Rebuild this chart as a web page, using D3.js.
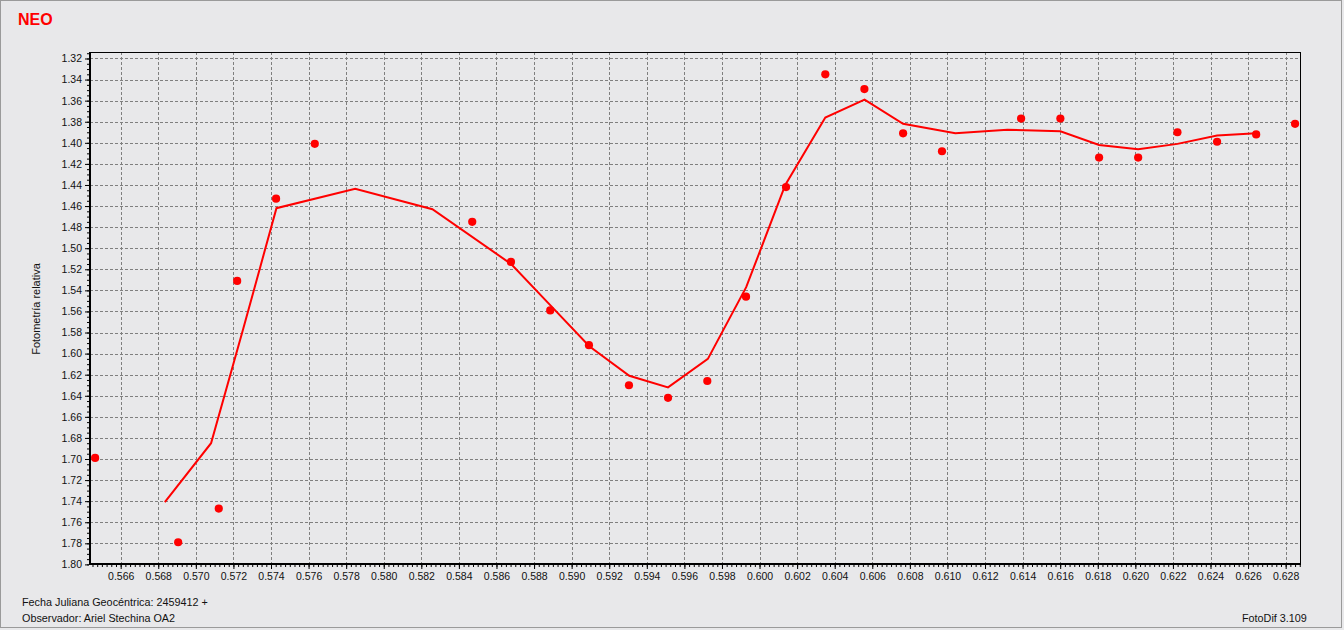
<!DOCTYPE html>
<html>
<head>
<meta charset="utf-8">
<script src="https://cdn.jsdelivr.net/npm/d3@7"></script>
<style>
  html, body { margin: 0; padding: 0; background: #e8e8ea; }
  svg { display: block; }
  text { font-family: "Liberation Sans", Arial, sans-serif; }
</style>
</head>
<body>
<svg id="chart" width="1344" height="630"></svg>
<script>
// ---- data ----
const title = "NEO";
const yLabel = "Fotometría relativa";
const footer1 = "Fecha Juliana Geocéntrica: 2459412 +";
const footer2 = "Observador: Ariel Stechina OA2";
const footerRight = "FotoDif 3.109";

const xTicks = [0.566, 0.568, 0.570, 0.572, 0.574, 0.576, 0.578, 0.580, 0.582, 0.584,
                0.586, 0.588, 0.590, 0.592, 0.594, 0.596, 0.598, 0.600, 0.602, 0.604,
                0.606, 0.608, 0.610, 0.612, 0.614, 0.616, 0.618, 0.620, 0.622, 0.624,
                0.626, 0.628];
const yTicks = [1.32, 1.34, 1.36, 1.38, 1.40, 1.42, 1.44, 1.46, 1.48, 1.50, 1.52, 1.54,
                1.56, 1.58, 1.60, 1.62, 1.64, 1.66, 1.68, 1.70, 1.72, 1.74, 1.76, 1.78, 1.80];

// observations (dots)
const obsX = [0.56464, 0.56906, 0.57122, 0.57220, 0.57427, 0.57633, 0.58471, 0.58677,
              0.58886, 0.59092, 0.59305, 0.59513, 0.59722, 0.59928, 0.60141, 0.60350,
              0.60558, 0.60764, 0.60971, 0.61392, 0.61601, 0.61807, 0.62015, 0.62224,
              0.62435, 0.62643, 0.62850];
const obsY = [1.699, 1.779, 1.747, 1.531, 1.453, 1.401, 1.475, 1.513,
              1.559, 1.592, 1.630, 1.642, 1.626, 1.546, 1.442, 1.335,
              1.349, 1.391, 1.408, 1.377, 1.377, 1.414, 1.414, 1.390,
              1.399, 1.392, 1.382];

// smoothed curve (red line)
const avgX = [0.56835, 0.57081, 0.57253, 0.57429, 0.57848, 0.58259, 0.58678, 0.58886,
              0.59094, 0.59307, 0.59513, 0.59725, 0.59929, 0.60137, 0.60350, 0.60559,
              0.60764, 0.61042, 0.61319, 0.61601, 0.61807, 0.62015, 0.62224, 0.62435,
              0.62643];
const avgY = [1.741, 1.685, 1.576, 1.462, 1.4435, 1.463, 1.515, 1.554,
              1.593, 1.621, 1.632, 1.605, 1.537, 1.440, 1.376, 1.359,
              1.382, 1.391, 1.3875, 1.389, 1.402, 1.406, 1.401, 1.393,
              1.391];

const xMinorStep = 0.00025;
const yMinorStep = 0.005;

// ---- drawing ----
const svg = d3.select("#chart");
const W = 1344, H = 630;
const L = 90, T = 52, R = 1300.5, B = 564;

const x = d3.scaleLinear().domain([0.56433, 0.62880]).range([89.3, 1300.7]);
const y = d3.scaleLinear().domain([1.80, 1.31412]).range([564.4, 52.3]);

// background & outer frame
svg.append("rect").attr("x", 0).attr("y", 0).attr("width", W).attr("height", H).attr("fill", "#e8e8ea");
svg.append("rect").attr("x", 0.5).attr("y", 0.5).attr("width", 1341).attr("height", 627)
  .attr("fill", "none").attr("stroke", "#9a9a9a").attr("stroke-width", 1);

// title
svg.append("text").attr("x", 18).attr("y", 25).attr("fill", "#ff0000")
  .attr("font-size", 16).attr("font-weight", "bold").text(title);

// grid
const grid = svg.append("g");
grid.selectAll("line.gx").data(xTicks).join("line").attr("class", "gx")
  .attr("x1", d => Math.round(x(d)) + 0.5).attr("x2", d => Math.round(x(d)) + 0.5)
  .attr("y1", T).attr("y2", B)
  .attr("stroke", "#7f7f7f").attr("stroke-dasharray", "3,2");
grid.selectAll("line.gy").data(yTicks).join("line").attr("class", "gy")
  .attr("y1", d => Math.round(y(d)) + 0.5).attr("y2", d => Math.round(y(d)) + 0.5)
  .attr("x1", L).attr("x2", R)
  .attr("stroke", "#7f7f7f").attr("stroke-dasharray", "3,2");

// minor ticks
const xMinor = d3.range(Math.ceil(0.56433 / xMinorStep), Math.floor(0.62880 / xMinorStep) + 1).map(i => i * xMinorStep);
const yMinor = d3.range(Math.ceil(1.31412 / yMinorStep), Math.floor(1.80 / yMinorStep) + 1).map(i => i * yMinorStep);

const xMinorAxis = d3.axisBottom(x).tickValues(xMinor).tickSize(2).tickFormat("");
const yMinorAxis = d3.axisLeft(y).tickValues(yMinor).tickSize(2).tickFormat("");
svg.append("g").attr("transform", `translate(0,${B + 1})`).call(xMinorAxis)
  .call(g => g.select(".domain").remove())
  .call(g => g.selectAll("line").attr("stroke", "#000"));
svg.append("g").attr("transform", `translate(${L - 1},0)`).call(yMinorAxis)
  .call(g => g.select(".domain").remove())
  .call(g => g.selectAll("line").attr("stroke", "#000"));

// major axes
const xAxis = d3.axisBottom(x).tickValues(xTicks).tickSize(4).tickPadding(4).tickFormat(d3.format(".3f"));
const yAxis = d3.axisLeft(y).tickValues(yTicks).tickSize(4).tickPadding(3).tickFormat(d3.format(".2f"));
svg.append("g").attr("transform", `translate(0,${B + 1})`).call(xAxis)
  .call(g => g.select(".domain").remove())
  .call(g => g.selectAll("line").attr("stroke", "#000"))
  .call(g => g.selectAll("text").attr("font-family", "Liberation Sans, Arial, sans-serif")
      .attr("font-size", 10.5).attr("fill", "#111"));
svg.append("g").attr("transform", `translate(${L - 1},0)`).call(yAxis)
  .call(g => g.select(".domain").remove())
  .call(g => g.selectAll("line").attr("stroke", "#000"))
  .call(g => g.selectAll("text").attr("font-family", "Liberation Sans, Arial, sans-serif")
      .attr("font-size", 10.5).attr("fill", "#111"));

// plot frame
svg.append("rect").attr("x", L).attr("y", T + 0.5).attr("width", R - L).attr("height", B - T)
  .attr("fill", "none").attr("stroke", "#000").attr("stroke-width", 1);
svg.append("line").attr("x1", L).attr("x2", L).attr("y1", T).attr("y2", B + 1)
  .attr("stroke", "#000").attr("stroke-width", 2);
svg.append("line").attr("x1", L - 1).attr("x2", R + 0.5).attr("y1", B).attr("y2", B)
  .attr("stroke", "#000").attr("stroke-width", 2);

// y label
svg.append("text").attr("transform", "translate(40,309) rotate(-90)")
  .attr("text-anchor", "middle").attr("font-size", 11).attr("fill", "#111").text(yLabel);

// smoothed line
const lineData = avgX.map((v, i) => [v, avgY[i]]);
svg.append("path").datum(lineData)
  .attr("fill", "none").attr("stroke", "#ff0000").attr("stroke-width", 2)
  .attr("d", d3.line().x(d => x(d[0])).y(d => y(d[1])));

// points
const pts = obsX.map((v, i) => [v, obsY[i]]);
svg.append("g").selectAll("circle").data(pts).join("circle")
  .attr("cx", d => x(d[0])).attr("cy", d => y(d[1])).attr("r", 4.1)
  .attr("fill", "#ff0000");

// footers
svg.append("text").attr("x", 22).attr("y", 606).attr("font-size", 10.8).attr("fill", "#111").text(footer1);
svg.append("text").attr("x", 22).attr("y", 621.5).attr("font-size", 10.8).attr("fill", "#111").text(footer2);
svg.append("text").attr("x", 1242).attr("y", 621.5).attr("font-size", 10.8).attr("fill", "#111").text(footerRight);
</script>
</body>
</html>
